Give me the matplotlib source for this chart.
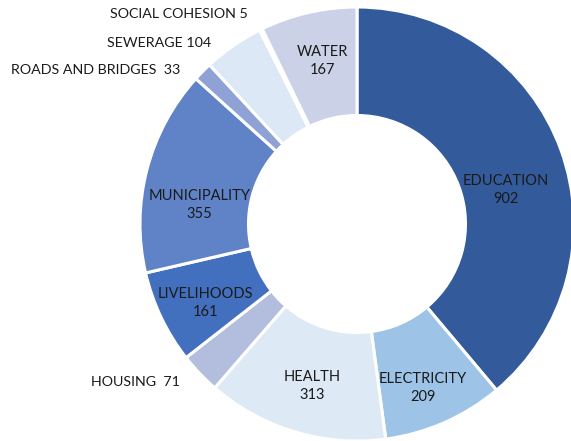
import matplotlib.pyplot as plt
import numpy as np

categories = ["EDUCATION", "ELECTRICITY", "HEALTH", "HOUSING", "LIVELIHOODS",
              "MUNICIPALITY", "ROADS AND BRIDGES", "SEWERAGE", "SOCIAL COHESION", "WATER"]
values = [902, 209, 313, 71, 161, 355, 33, 104, 5, 167]

colors = ["#335A9A", "#9DC3E6", "#DDEAF6", "#B3BEDF", "#4370BE",
          "#6083C8", "#8EA2D6", "#DCE8F5", "#C9D3EB", "#CBD2E8"]

# slices too thin to hold their own label get one outside the ring
outside = {"HOUSING": (-0.816, -0.728, "  "),
           "ROADS AND BRIDGES": (-0.816, 0.710, "  "),
           "SEWERAGE": (-0.673, 0.834, " "),
           "SOCIAL COHESION": (-0.502, 0.968, " ")}
# small nudges for the inside labels
nudge = {"EDUCATION": (-0.02, -0.10), "MUNICIPALITY": (0.0, -0.10),
         "LIVELIHOODS": (-0.02, -0.04), "ELECTRICITY": (0.0, -0.07),
         "WATER": (0.01, 0.02), "HEALTH": (0.01, -0.03)}

plt.rcParams['font.family'] = ['Lato', 'DejaVu Sans']

fig = plt.figure(figsize=(5.71, 4.41), dpi=100)
ax = fig.add_axes([0, 0, 1, 1])

wedges, _ = ax.pie(values, colors=colors, startangle=90, counterclock=False,
                   radius=1.0, wedgeprops=dict(width=0.5, edgecolor="white", linewidth=2.2))

for w, name, val in zip(wedges, categories, values):
    if name in outside:
        x, y, sep = outside[name]
        ax.text(x, y, name + sep + str(val), ha="right", va="center", fontsize=10.3, color="#1a1a1a")
        continue
    mid = np.deg2rad((w.theta1 + w.theta2) / 2)
    dx, dy = nudge.get(name, (0, 0))
    ax.text(0.75 * np.cos(mid) + dx, 0.75 * np.sin(mid) + dy, name + "\n" + str(val),
            ha="center", va="center", fontsize=10.5, color="#1a1a1a", linespacing=1.35)

ax.set_xlim(-357 / 217, (571 - 357) / 217)
ax.set_ylim(-(441 - 224) / 217, 224 / 217)
ax.set_aspect("auto")
ax.axis("off")

fig.savefig("out.png", dpi=100)
